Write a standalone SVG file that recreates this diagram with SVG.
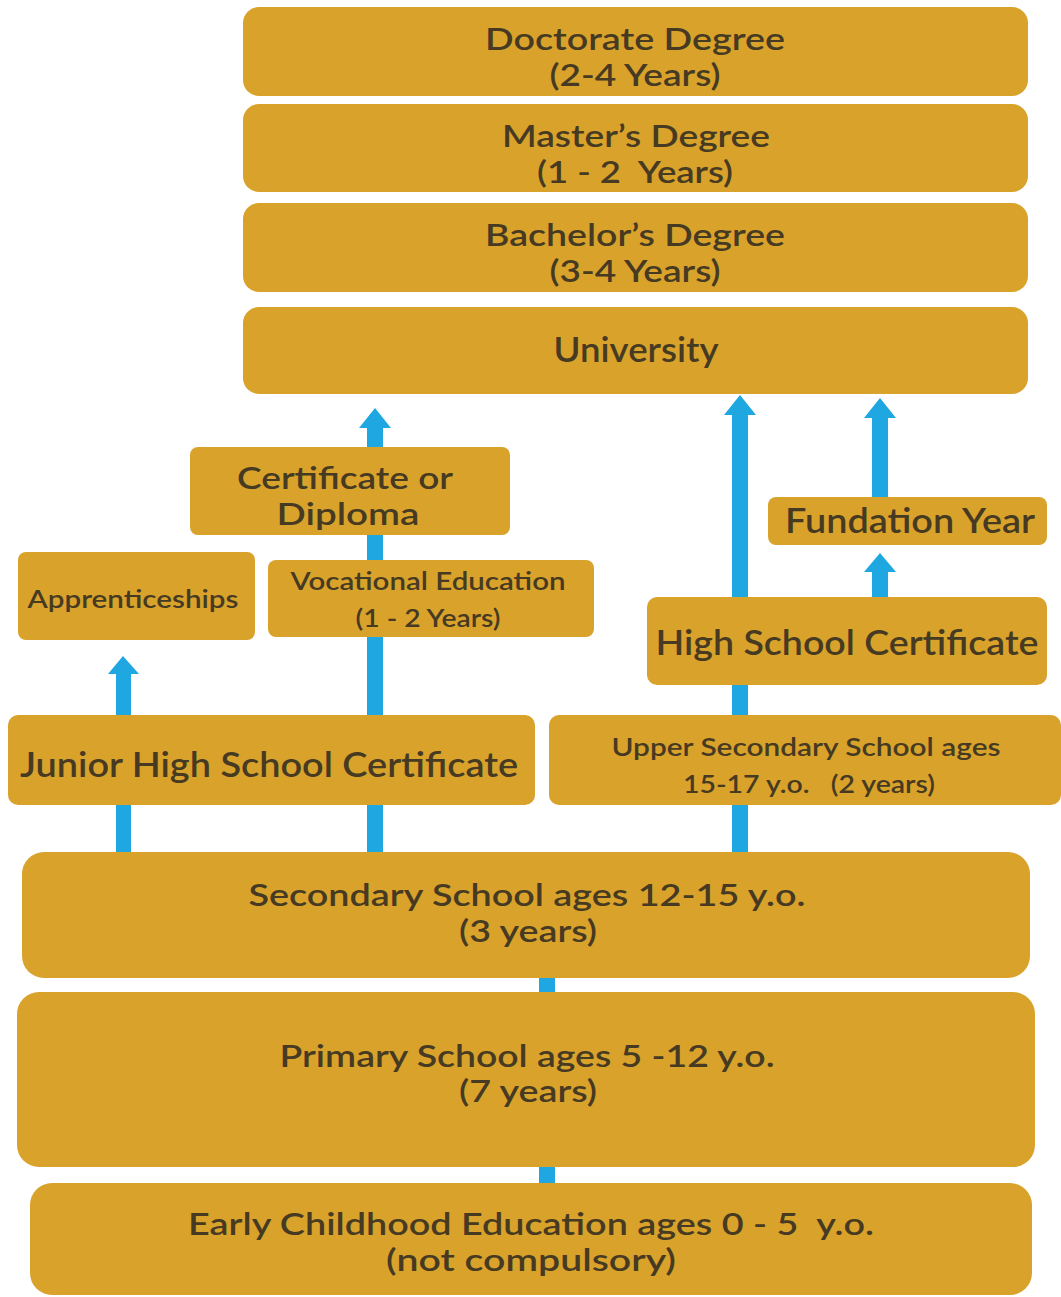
<svg xmlns="http://www.w3.org/2000/svg" width="1061" height="1297" viewBox="0 0 1061 1297">
<style>
.box{fill:#d9a22b;}
.t{font-family:Lato,"Open Sans","Liberation Sans",sans-serif;fill:#463a22;text-anchor:middle;font-weight:600;}
.l{font-size:30px;}
.x{font-size:34px;}
.s{font-size:24px;}
.a{fill:#1ea7e1;}
</style>
<rect width="1061" height="1297" fill="#ffffff"/>
<g id="connectors">
<rect class="a" x="116" y="672" width="15" height="180"/>
<polygon class="a" points="108,674 123,656 139,674"/>
<rect class="a" x="367" y="426" width="16" height="426"/>
<polygon class="a" points="359,428 375,408 391,428"/>
<rect class="a" x="732" y="413" width="16" height="439"/>
<polygon class="a" points="724,415 740,395 756,415"/>
<rect class="a" x="872" y="416" width="16" height="81"/>
<polygon class="a" points="864,418 880,398 896,418"/>
<rect class="a" x="872" y="570" width="16" height="27"/>
<polygon class="a" points="864,572 880,553 896,572"/>
<rect class="a" x="539" y="976" width="16" height="18"/>
<rect class="a" x="539" y="1165" width="16" height="20"/>
</g>
<g id="doctorate"><rect class="box" x="243" y="7" width="785" height="89" rx="16"/>
<text class="t l"><tspan x="635" y="50" textLength="300" lengthAdjust="spacingAndGlyphs">Doctorate Degree</tspan><tspan x="635" y="86" textLength="171" lengthAdjust="spacingAndGlyphs">(2-4 Years)</tspan></text></g>
<g id="masters"><rect class="box" x="243" y="104" width="785" height="88" rx="16"/>
<text class="t l" xml:space="preserve"><tspan x="636" y="147" textLength="268" lengthAdjust="spacingAndGlyphs">Master’s Degree</tspan><tspan x="635" y="183" textLength="196" lengthAdjust="spacingAndGlyphs">(1 - 2  Years)</tspan></text></g>
<g id="bachelors"><rect class="box" x="243" y="203" width="785" height="89" rx="16"/>
<text class="t l"><tspan x="635" y="246" textLength="300" lengthAdjust="spacingAndGlyphs">Bachelor’s Degree</tspan><tspan x="635" y="282" textLength="171" lengthAdjust="spacingAndGlyphs">(3-4 Years)</tspan></text></g>
<g id="university"><rect class="box" x="243" y="307" width="785" height="87" rx="16"/>
<text class="t x" x="636" y="362" textLength="165" lengthAdjust="spacingAndGlyphs">University</text></g>
<g id="certificate"><rect class="box" x="190" y="447" width="320" height="88" rx="8"/>
<text class="t l"><tspan x="345" y="489" textLength="216" lengthAdjust="spacingAndGlyphs">Certificate or</tspan><tspan x="348" y="525" textLength="143" lengthAdjust="spacingAndGlyphs">Diploma</tspan></text></g>
<g id="apprenticeships"><rect class="box" x="18" y="552" width="237" height="88" rx="8"/>
<text class="t s" x="133" y="608" textLength="211" lengthAdjust="spacingAndGlyphs">Apprenticeships</text></g>
<g id="vocational"><rect class="box" x="268" y="560" width="326" height="77" rx="8"/>
<text class="t s"><tspan x="428" y="590" textLength="275" lengthAdjust="spacingAndGlyphs">Vocational Education</tspan><tspan x="428" y="627" textLength="145" lengthAdjust="spacingAndGlyphs">(1 - 2 Years)</tspan></text></g>
<g id="fundation"><rect class="box" x="768" y="497" width="279" height="48" rx="8"/>
<text class="t x" x="910" y="533" textLength="250" lengthAdjust="spacingAndGlyphs">Fundation Year</text></g>
<g id="highschool"><rect class="box" x="647" y="597" width="400" height="88" rx="10"/>
<text class="t x" x="847" y="655" textLength="383" lengthAdjust="spacingAndGlyphs">High School Certificate</text></g>
<g id="juniorhigh"><rect class="box" x="8" y="715" width="527" height="90" rx="10"/>
<text class="t x" x="269" y="777" textLength="498" lengthAdjust="spacingAndGlyphs">Junior High School Certificate</text></g>
<g id="uppersecondary"><rect class="box" x="549" y="715" width="512" height="90" rx="10"/>
<text class="t s" xml:space="preserve"><tspan x="806" y="756" textLength="389" lengthAdjust="spacingAndGlyphs">Upper Secondary School ages</tspan><tspan x="809" y="793" textLength="252" lengthAdjust="spacingAndGlyphs">15-17 y.o.   (2 years)</tspan></text></g>
<g id="secondary"><rect class="box" x="22" y="852" width="1008" height="126" rx="22"/>
<text class="t l"><tspan x="527" y="906" textLength="557" lengthAdjust="spacingAndGlyphs">Secondary School ages 12-15 y.o.</tspan><tspan x="528" y="942" textLength="138" lengthAdjust="spacingAndGlyphs">(3 years)</tspan></text></g>
<g id="primary"><rect class="box" x="17" y="992" width="1018" height="175" rx="22"/>
<text class="t l"><tspan x="527" y="1067" textLength="495" lengthAdjust="spacingAndGlyphs">Primary School ages 5 -12 y.o.</tspan><tspan x="528" y="1102" textLength="138" lengthAdjust="spacingAndGlyphs">(7 years)</tspan></text></g>
<g id="earlychildhood"><rect class="box" x="30" y="1183" width="1002" height="112" rx="22"/>
<text class="t l" xml:space="preserve"><tspan x="531" y="1235" textLength="686" lengthAdjust="spacingAndGlyphs">Early Childhood Education ages 0 - 5  y.o.</tspan><tspan x="531" y="1271" textLength="290" lengthAdjust="spacingAndGlyphs">(not compulsory)</tspan></text></g>
</svg>
